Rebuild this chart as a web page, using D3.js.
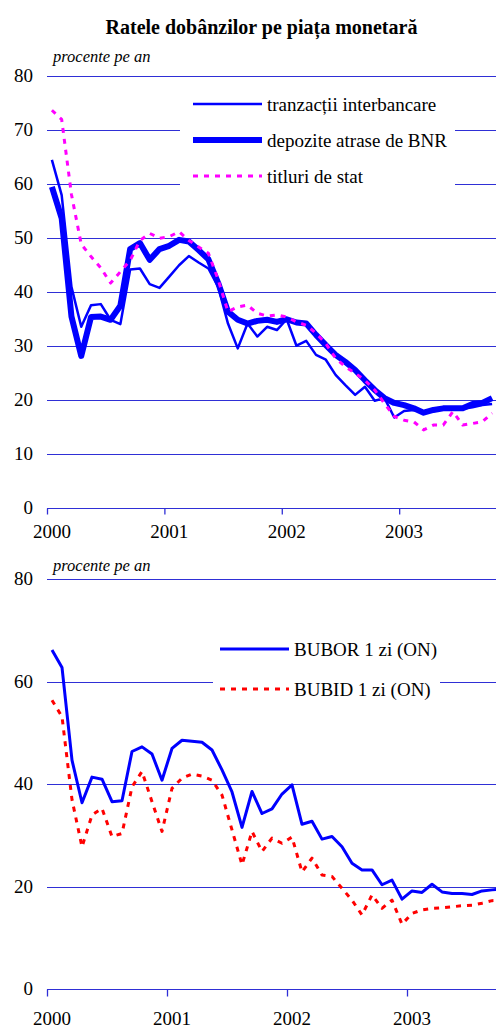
<!DOCTYPE html>
<html>
<head>
<meta charset="utf-8">
<script src="https://cdn.jsdelivr.net/npm/d3@7"></script>
<style>
  body { margin: 0; background: #fff; }
</style>
</head>
<body>
<div id="chart"></div>
<script>
// lunar, ian 2000 - oct 2003
var yearLabels = ["2000", "2001", "2002", "2003"];

var tranzactii = [64.4,57.9,40.9,33.5,37.5,37.7,34.8,34.0,44.1,44.3,41.4,40.7,42.8,44.9,46.6,45.4,44.3,40.9,34.1,29.5,
  34.1,31.7,33.5,32.9,34.9,30.0,30.9,28.3,27.4,24.6,22.7,20.9,22.4,19.8,20.3,16.7,17.9,18.1,17.8,18.0,
  18.2,18.2,18.3,18.6,19.0,19.2];
var depozite = [59.4,53.6,35.4,28.1,35.3,35.4,34.8,37.4,47.9,49.0,45.9,47.9,48.5,49.6,49.3,47.7,46.0,41.6,36.3,34.8,
  34.1,34.6,34.8,34.4,34.9,34.3,34.1,32.0,30.1,28.3,27.0,25.5,23.6,21.8,20.3,19.4,19.0,18.4,17.6,18.1,
  18.4,18.4,18.4,19.2,19.4,20.3];
var titluri = [73.6,71.9,58.0,48.8,46.5,44.4,41.6,43.7,45.8,49.5,50.8,49.9,50.2,51.1,49.5,48.3,47.1,42.2,36.3,37.2,
  37.5,36.0,35.5,35.7,35.3,34.4,33.8,32.3,30.4,27.7,26.1,24.9,23.6,21.8,19.3,16.9,16.2,15.9,14.4,15.3,
  15.3,17.8,15.3,15.6,15.9,17.5];

var bubor = [66.2,62.8,44.7,36.4,41.4,41.0,36.6,36.8,46.4,47.3,45.9,40.8,47.0,48.6,48.4,48.2,46.7,42.8,38.5,31.6,
  38.6,34.3,35.2,38.1,39.9,32.2,32.8,29.3,29.8,27.8,24.6,23.3,23.3,20.4,21.3,17.6,19.2,18.9,20.5,19.0,
  18.7,18.7,18.5,19.2,19.4,19.6];
var bubid = [56.4,53.2,37.0,27.8,34.0,35.3,29.8,30.4,39.5,42.5,36.6,30.8,39.2,41.2,42.0,41.6,40.8,37.9,31.1,24.3,
  30.8,26.9,29.5,28.5,29.7,22.9,25.6,22.3,22.0,19.7,17.4,14.5,18.4,15.8,17.4,12.7,14.8,15.5,15.8,15.9,
  16.1,16.3,16.4,16.8,17.3,17.4];

var width = 496, height = 1029;
var gridColor = "#2f2fd6";
var serif = "'Liberation Serif', 'Times New Roman', Times, 'DejaVu Serif', serif";

var svg = d3.select("#chart").append("svg")
  .attr("width", width).attr("height", height)
  .attr("font-family", serif);

function txt(sel, size) {
  return sel.attr("font-family", serif)
    .style("font-family", serif)
    .style("font-size", size + "px")
    .style("fill", "#000");
}

txt(svg.append("text"), 20)
  .attr("x", 261.5).attr("y", 34)
  .attr("text-anchor", "middle")
  .style("font-weight", "bold")
  .text("Ratele dobânzilor pe piața monetară");

function panel(opt) {
  var x = d3.scaleLinear().domain([0, 46]).range([47, opt.xRight]);
  var y = d3.scaleLinear().domain([0, 80]).range([opt.yBottom, opt.yTop]);
  var g = svg.append("g");

  // gridlines
  g.selectAll("line.grid")
    .data(d3.range(opt.step, 81, opt.step))
    .enter().append("line")
    .attr("x1", 47).attr("x2", width)
    .attr("y1", function(d){ return Math.round(y(d)) + 0.5; })
    .attr("y2", function(d){ return Math.round(y(d)) + 0.5; })
    .style("stroke", gridColor).style("stroke-width", 1);

  // y labels
  txt(g.selectAll("text.ylab")
    .data(d3.range(0, 81, opt.step))
    .enter().append("text"), 19)
    .attr("x", 33).attr("y", function(d){ return y(d) + 6; })
    .attr("text-anchor", "end")
    .text(function(d){ return d; });

  // x axis
  var ax = g.append("g")
    .attr("transform", "translate(0," + (Math.round(opt.yBottom) + 0.5) + ")")
    .call(d3.axisBottom(x).tickValues([0, 12, 24, 36]).tickSize(opt.tick).tickSizeOuter(0).tickFormat(""));
  ax.select(".domain").attr("d", "M47,0H" + width).style("stroke", gridColor);
  ax.selectAll(".tick line").style("stroke", gridColor).style("stroke-width", 1.3);

  txt(g.selectAll("text.xlab")
    .data(yearLabels)
    .enter().append("text"), 19)
    .attr("x", function(d, i){ return x(i * 12 + 0.5); })
    .attr("y", opt.yBottom + opt.labelOff)
    .attr("text-anchor", "middle")
    .text(function(d){ return d; });

  txt(g.append("text"), 16.5)
    .attr("x", 53).attr("y", opt.unitY)
    .style("font-style", "italic")
    .text("procente pe an");

  // legend box hides the grid
  g.append("rect")
    .attr("x", opt.box[0]).attr("y", opt.box[1])
    .attr("width", opt.box[2]).attr("height", opt.box[3])
    .style("fill", "#fff");

  var line = d3.line()
    .x(function(d, i){ return x(i + 0.5); })
    .y(function(d){ return y(d); });

  opt.series.forEach(function(s, k){
    g.append("path")
      .datum(s.values)
      .attr("d", line)
      .style("fill", "none")
      .style("stroke", s.color)
      .style("stroke-width", s.w)
      .style("stroke-dasharray", s.dash || null)
      .style("stroke-linejoin", "round");

    var ly = opt.legY + k * opt.legGap;
    g.append("line")
      .attr("x1", opt.legX).attr("x2", opt.legX + 69)
      .attr("y1", ly).attr("y2", ly)
      .style("stroke", s.color)
      .style("stroke-width", s.w)
      .style("stroke-dasharray", s.dash || null);
    txt(g.append("text"), 19)
      .attr("x", opt.legX + 74).attr("y", ly + 7)
      .text(s.name);
  });
}

panel({
  xRight: 497, yTop: 75.7, yBottom: 507.7, step: 10, tick: 6, labelOff: 30.5, unitY: 62,
  box: [180, 88, 275, 110], legX: 193, legY: 104, legGap: 36,
  series: [
    {name: "tranzacții interbancare", values: tranzactii, color: "#0000ff", w: 2.5},
    {name: "depozite atrase de BNR", values: depozite, color: "#0000ff", w: 6},
    {name: "titluri de stat", values: titluri, color: "#ff00ff", w: 3, dash: "5,6"}
  ]
});

panel({
  xRight: 507, yTop: 579.3, yBottom: 989.3, step: 20, tick: 7, labelOff: 35.5, unitY: 571,
  box: [213, 625, 227, 90], legX: 220, legY: 649, legGap: 40,
  series: [
    {name: "BUBOR 1 zi (ON)", values: bubor, color: "#0000ff", w: 3},
    {name: "BUBID 1 zi (ON)", values: bubid, color: "#ff0000", w: 3, dash: "5,6"}
  ]
});
</script>
</body>
</html>
